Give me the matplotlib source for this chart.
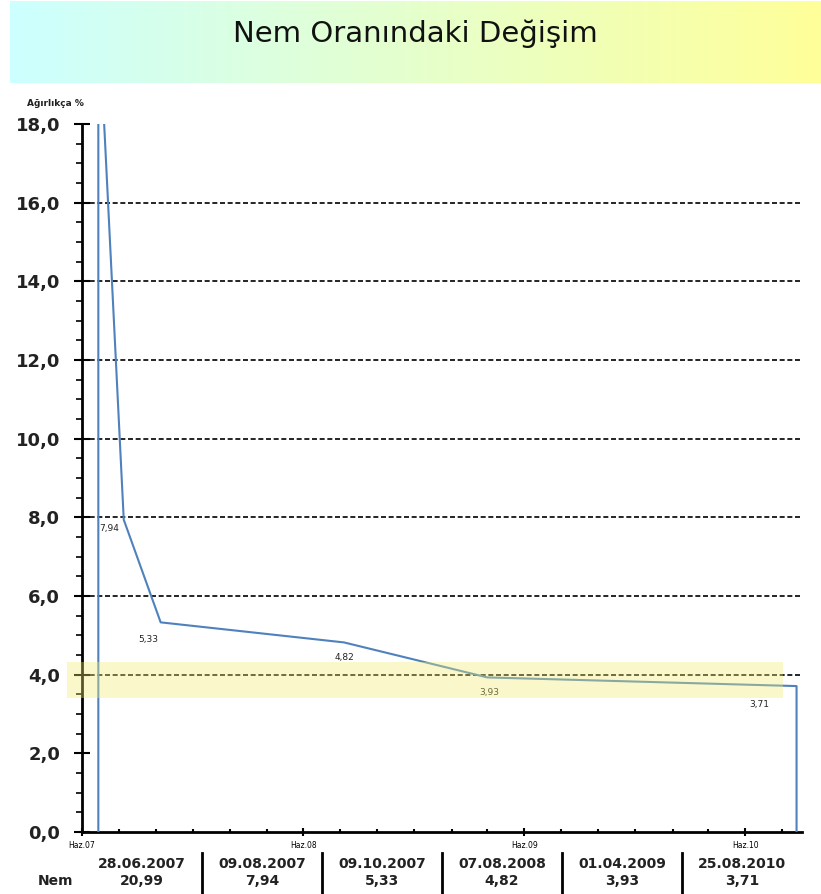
import numpy as np
import matplotlib
matplotlib.use('Agg')
import matplotlib.pyplot as plt
import matplotlib.dates as mdates
import matplotlib.transforms as mtransforms
from matplotlib.ticker import MultipleLocator, FuncFormatter
from datetime import datetime

# measurement table (date, moisture %)
dates = ['28.06.2007', '09.08.2007', '09.10.2007', '07.08.2008', '01.04.2009', '25.08.2010']
nem = [20.99, 7.94, 5.33, 4.82, 3.93, 3.71]
row_label = 'Nem'
title = 'Nem Oranındaki Değişim'
ylabel = 'Ağırlıkça %'
band_low, band_high = 3.41, 4.32

d = [datetime.strptime(s, '%d.%m.%Y') for s in dates]
xs = [d[0]] + d + [d[-1]]
ys = [0] + nem + [0]

fig = plt.figure(figsize=(8.21, 8.94), dpi=100)

# gradient title box
tax = fig.add_axes([10/821, 1-83/894, 811/821, 82/894])
c0 = np.array([0.80, 1.0, 1.0])
c1 = np.array([1.0, 1.0, 0.60])
t = np.linspace(0, 1, 256)[:, None]
grad = (c0 + (c1 - c0)*t)[None, :, :]
tax.imshow(grad, aspect='auto', extent=[0, 1, 0, 1])
tax.axis('off')
tax.text(0.5, 0.60, title, ha='center', va='center', fontsize=21, color='#111111')

ax = fig.add_axes([82/821, 1-832/894, 720/821, 708/894])
ax.plot(xs, ys, color='#4f81bd', lw=1.5, zorder=3)

for lev in range(4, 17, 2):
    ax.axhline(lev, color='black', lw=1.2, ls=(0, (3, 1.6)), zorder=2)

# data labels
offs = [None, (-15, -9), (-12, -17), (0, -15), (2, -15), (-37, -18)]
for xi, yi, o in zip(d, nem, offs):
    if o is None:
        continue
    ax.annotate(f'{yi:.2f}'.replace('.', ','), (mdates.date2num(xi), yi), xytext=o,
                textcoords='offset pixels', ha='center', va='center',
                fontsize=6.5, color='#222222', zorder=4)

# highlight band
trans = mtransforms.blended_transform_factory(ax.transAxes, ax.transData)
ax.add_patch(plt.Rectangle((-0.021, band_low), 0.995, band_high-band_low, transform=trans,
                           facecolor='#f2ee70', alpha=0.36, edgecolor='none',
                           clip_on=False, zorder=5))

ax.set_ylim(0, 18)
ax.set_xlim(datetime(2007, 6, 1), datetime(2010, 9, 3))
ax.yaxis.set_major_locator(MultipleLocator(2))
ax.yaxis.set_minor_locator(MultipleLocator(0.5))
ax.yaxis.set_major_formatter(FuncFormatter(lambda v, p: f'{v:.1f}'.replace('.', ',')))
ax.xaxis.set_major_locator(mdates.MonthLocator(bymonth=6))
ax.xaxis.set_minor_locator(mdates.MonthLocator(bymonth=[2, 4, 6, 8, 10, 12]))
ax.xaxis.set_major_formatter(FuncFormatter(lambda v, p: 'Haz.' + mdates.num2date(v).strftime('%y')))

for s in ['top', 'right']:
    ax.spines[s].set_visible(False)
for s in ['left', 'bottom']:
    ax.spines[s].set_linewidth(2)

ax.tick_params(axis='y', which='major', direction='inout', length=11.5, width=1.5,
               pad=10, labelsize=13, labelcolor='#222222')
ax.tick_params(axis='y', which='minor', direction='out', length=4.5, width=1.2)
ax.tick_params(axis='x', which='major', direction='inout', length=6, width=1.5,
               pad=3.5, labelsize=5.5)
ax.tick_params(axis='x', which='minor', direction='in', length=2.2, width=1.5)
for lab in ax.get_yticklabels():
    lab.set_fontweight('bold')

fig.text(55/821, 1-104/894, ylabel, ha='center', va='center', fontsize=6.5,
         fontweight='bold', color='#222222')

# data table under the axis
n = len(dates)
for i in range(n):
    cx = (i + 0.5)/n
    ax.text(cx, -0.0452, dates[i], transform=ax.transAxes, ha='center', va='center',
            fontsize=10, fontweight='bold', color='#222222')
    ax.text(cx, -0.0692, f'{nem[i]:.2f}'.replace('.', ','), transform=ax.transAxes,
            ha='center', va='center', fontsize=10, fontweight='bold', color='#222222')
    if i > 0:
        ax.plot([i/n, i/n], [-0.0297, -0.0862], transform=ax.transAxes, color='black',
                lw=2, clip_on=False)
ax.text(-0.0375, -0.0692, row_label, transform=ax.transAxes, ha='center', va='center',
        fontsize=10, fontweight='bold', color='#222222')

fig.savefig('out.png', dpi=100)
